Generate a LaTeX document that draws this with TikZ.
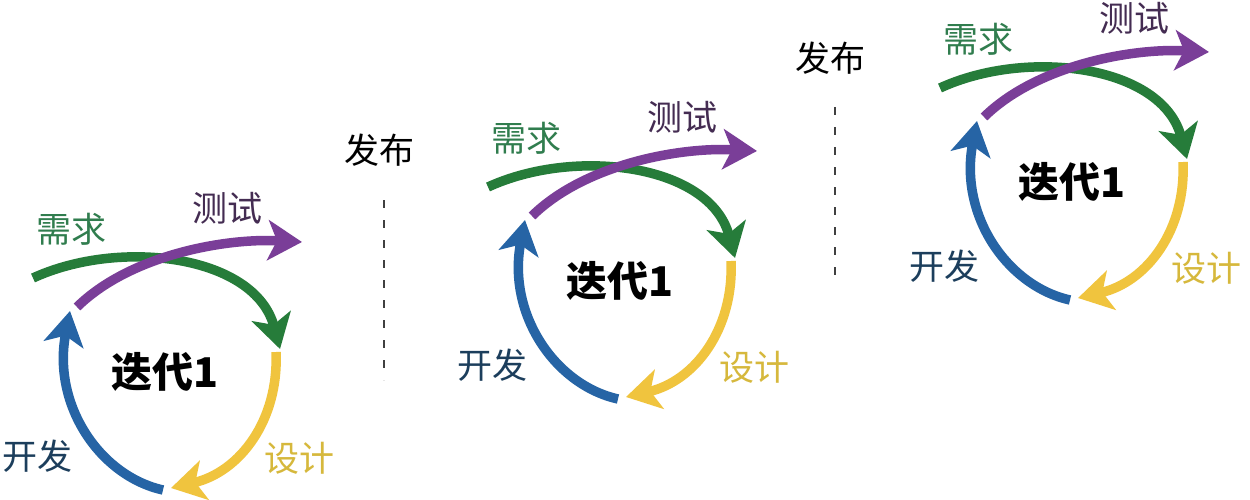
\documentclass[tikz,border=0pt]{standalone}
\usepackage{fontspec}
\setmainfont{Noto Sans CJK SC}
\usetikzlibrary{arrows.meta}
\definecolor{agreen}{RGB}{38,124,58}
\definecolor{apurple}{RGB}{122,62,152}
\definecolor{ablue}{RGB}{38,100,165}
\definecolor{ayellow}{RGB}{240,196,62}
\definecolor{lgreen}{RGB}{48,125,78}
\definecolor{lpurple}{RGB}{68,44,82}
\definecolor{lblue}{RGB}{28,62,92}
\definecolor{lyellow}{RGB}{214,184,60}
\tikzset{
  bigarrow/.style={line width=9.5pt, line cap=butt, -{Stealth[length=34pt,width=40pt,inset=9pt]}},
  lbl/.style={inner sep=0pt, font=\fontsize{35}{35}\selectfont},
  ttl/.style={inner sep=0pt, font=\fontsize{41}{41}\selectfont\bfseries},
  relline/.style={draw=black!75, line width=2.5pt, dash pattern=on 8pt off 12pt},
  cycle/.pic={
    \coordinate (-gs) at (33,278);
    \coordinate (-ge) at (280,349);
    \coordinate (-ps) at (77,307);
    \coordinate (-pe) at (302,242);
    \coordinate (-ys) at (276,352);
    \coordinate (-ye) at (171,488);
    \coordinate (-bs) at (163,490);
    \coordinate (-be) at (70,311);
    \draw[bigarrow, ayellow] (-ys) .. controls (279,420) and (240,472) .. (-ye);
    \draw[bigarrow, ablue] (-bs) .. controls (100,476) and (52,405) .. (-be);
    \draw[bigarrow, agreen] (-gs) .. controls (120,238) and (255,255) .. (-ge);
    \draw[bigarrow, apurple] (-ps) .. controls (130,255) and (225,238) .. (-pe);
    \node[lbl, text=lgreen] (-req) at (71,229) {需求};
    \node[lbl, text=lpurple] (-tst) at (227,208) {测试};
    \node[lbl, text=lblue] (-dev) at (37,456) {开发};
    \node[lbl, text=lyellow] (-des) at (299,458) {设计};
    \node[ttl] (-it) at (165,372) {迭代1};
  }
}
\begin{document}
\begin{tikzpicture}[x=1pt,y=-1pt]
\useasboundingbox[fill=white] (0,0) rectangle (1250,500);
\pic (c1) at (0,0) {cycle};
\pic (c2) at (455,-91) {cycle};
\pic (c3) at (907,-190) {cycle};
\node[lbl, text=black] (r1) at (379,150) {发布};
\node[lbl, text=black] (r2) at (830,58) {发布};
\coordinate (d1a) at (384,200);
\coordinate (d1b) at (384,380);
\coordinate (d2a) at (835,107);
\coordinate (d2b) at (835,280);
\draw[relline] (d1a) -- (d1b);
\draw[relline] (d2a) -- (d2b);
\end{tikzpicture}
\end{document}
